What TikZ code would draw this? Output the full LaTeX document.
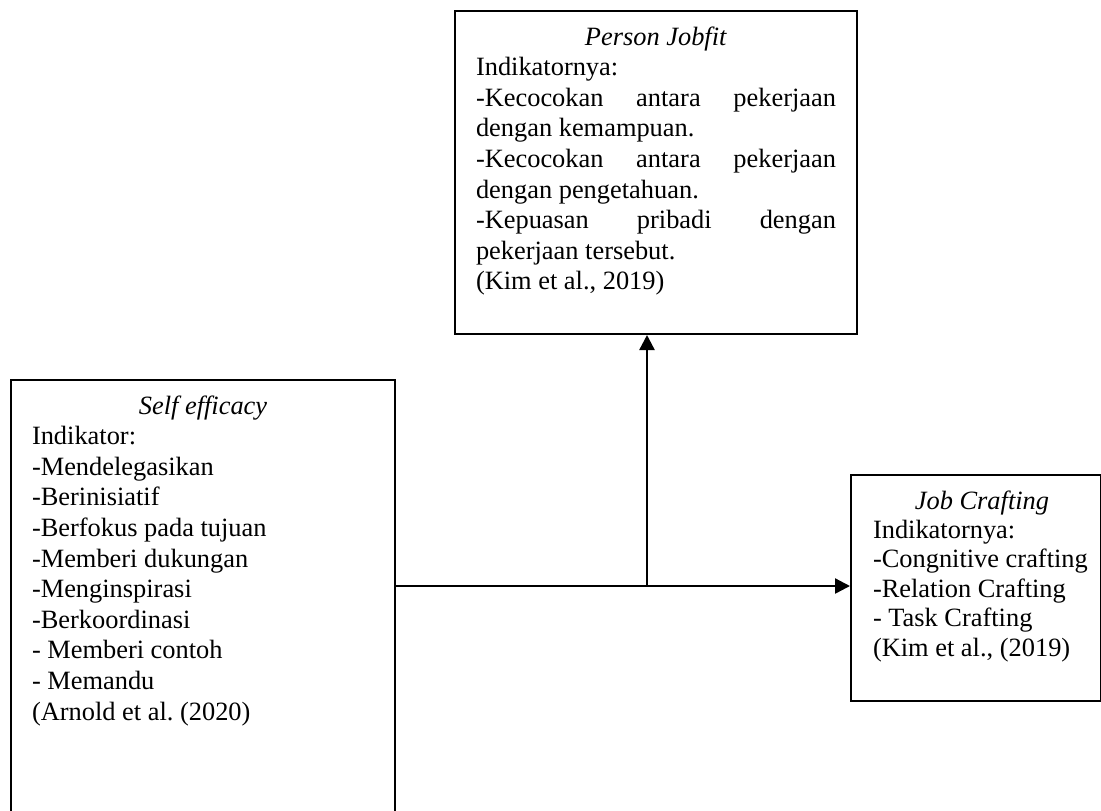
\documentclass[tikz,border=0pt]{standalone}
\usepackage{fontspec}
\setmainfont{Liberation Serif}
\usetikzlibrary{arrows.meta}
\frenchspacing

\newcommand{\isikotak}[5]{\parbox[c][#2][t]{#1}{\leftskip=#3\relax\rightskip=#4 plus 1fil\relax #5}}
\newcommand{\judul}[1]{\hfill\textit{#1}\rule{0pt}{17pt}\hfill\null}

\begin{document}
\begin{tikzpicture}[x=0.5pt,y=-0.5pt,
    kotak/.style={draw=black,line width=1pt,inner sep=0pt,anchor=north west,
        font=\fontsize{13.2}{15.3}\selectfont},
    panah/.style={line width=1.2pt,-{Triangle[length=7.5pt,width=7.5pt]}}]
    \useasboundingbox (0,0) rectangle (1101,810);

    \node[kotak] (pj) at (454,10) {\isikotak{201pt}{161.5pt}{10.5pt}{10.5pt}{%
        \judul{Person Jobfit}\\
        Indikatornya:\\
        -Kecocokan\hfill antara\hfill pekerjaan\\
        dengan kemampuan.\\
        -Kecocokan\hfill antara\hfill pekerjaan\\
        dengan pengetahuan.\\
        -Kepuasan\hfill pribadi\hfill dengan\\
        pekerjaan tersebut.\\
        (Kim et al., 2019)}};

    \node[kotak] (se) at (10,379) {\isikotak{192pt}{218pt}{10.5pt}{10.5pt}{%
        \judul{Self efficacy}\\
        Indikator:\\
        -Mendelegasikan\\
        -Berinisiatif\\
        -Berfokus pada tujuan\\
        -Memberi dukungan\\
        -Menginspirasi\\
        -Berkoordinasi\\
        - Memberi contoh\\
        - Memandu\\
        (Arnold et al. (2020)}};

    \node[kotak,font=\fontsize{13.2}{14.7}\selectfont] (jc) at (850,474) {\isikotak{125pt}{113pt}{11pt}{5pt}{%
        \judul{Job Crafting}\\
        Indikatornya:\\
        -Congnitive crafting\\
        -Relation Crafting\\
        - Task Crafting\\
        (Kim et al., (2019)}};

    \coordinate (cabang) at (647,586);

    \draw[panah] (se.east |- cabang) -- (jc.west |- cabang);
    \draw[panah] (cabang) -- (pj.south -| cabang);
\end{tikzpicture}
\end{document}
